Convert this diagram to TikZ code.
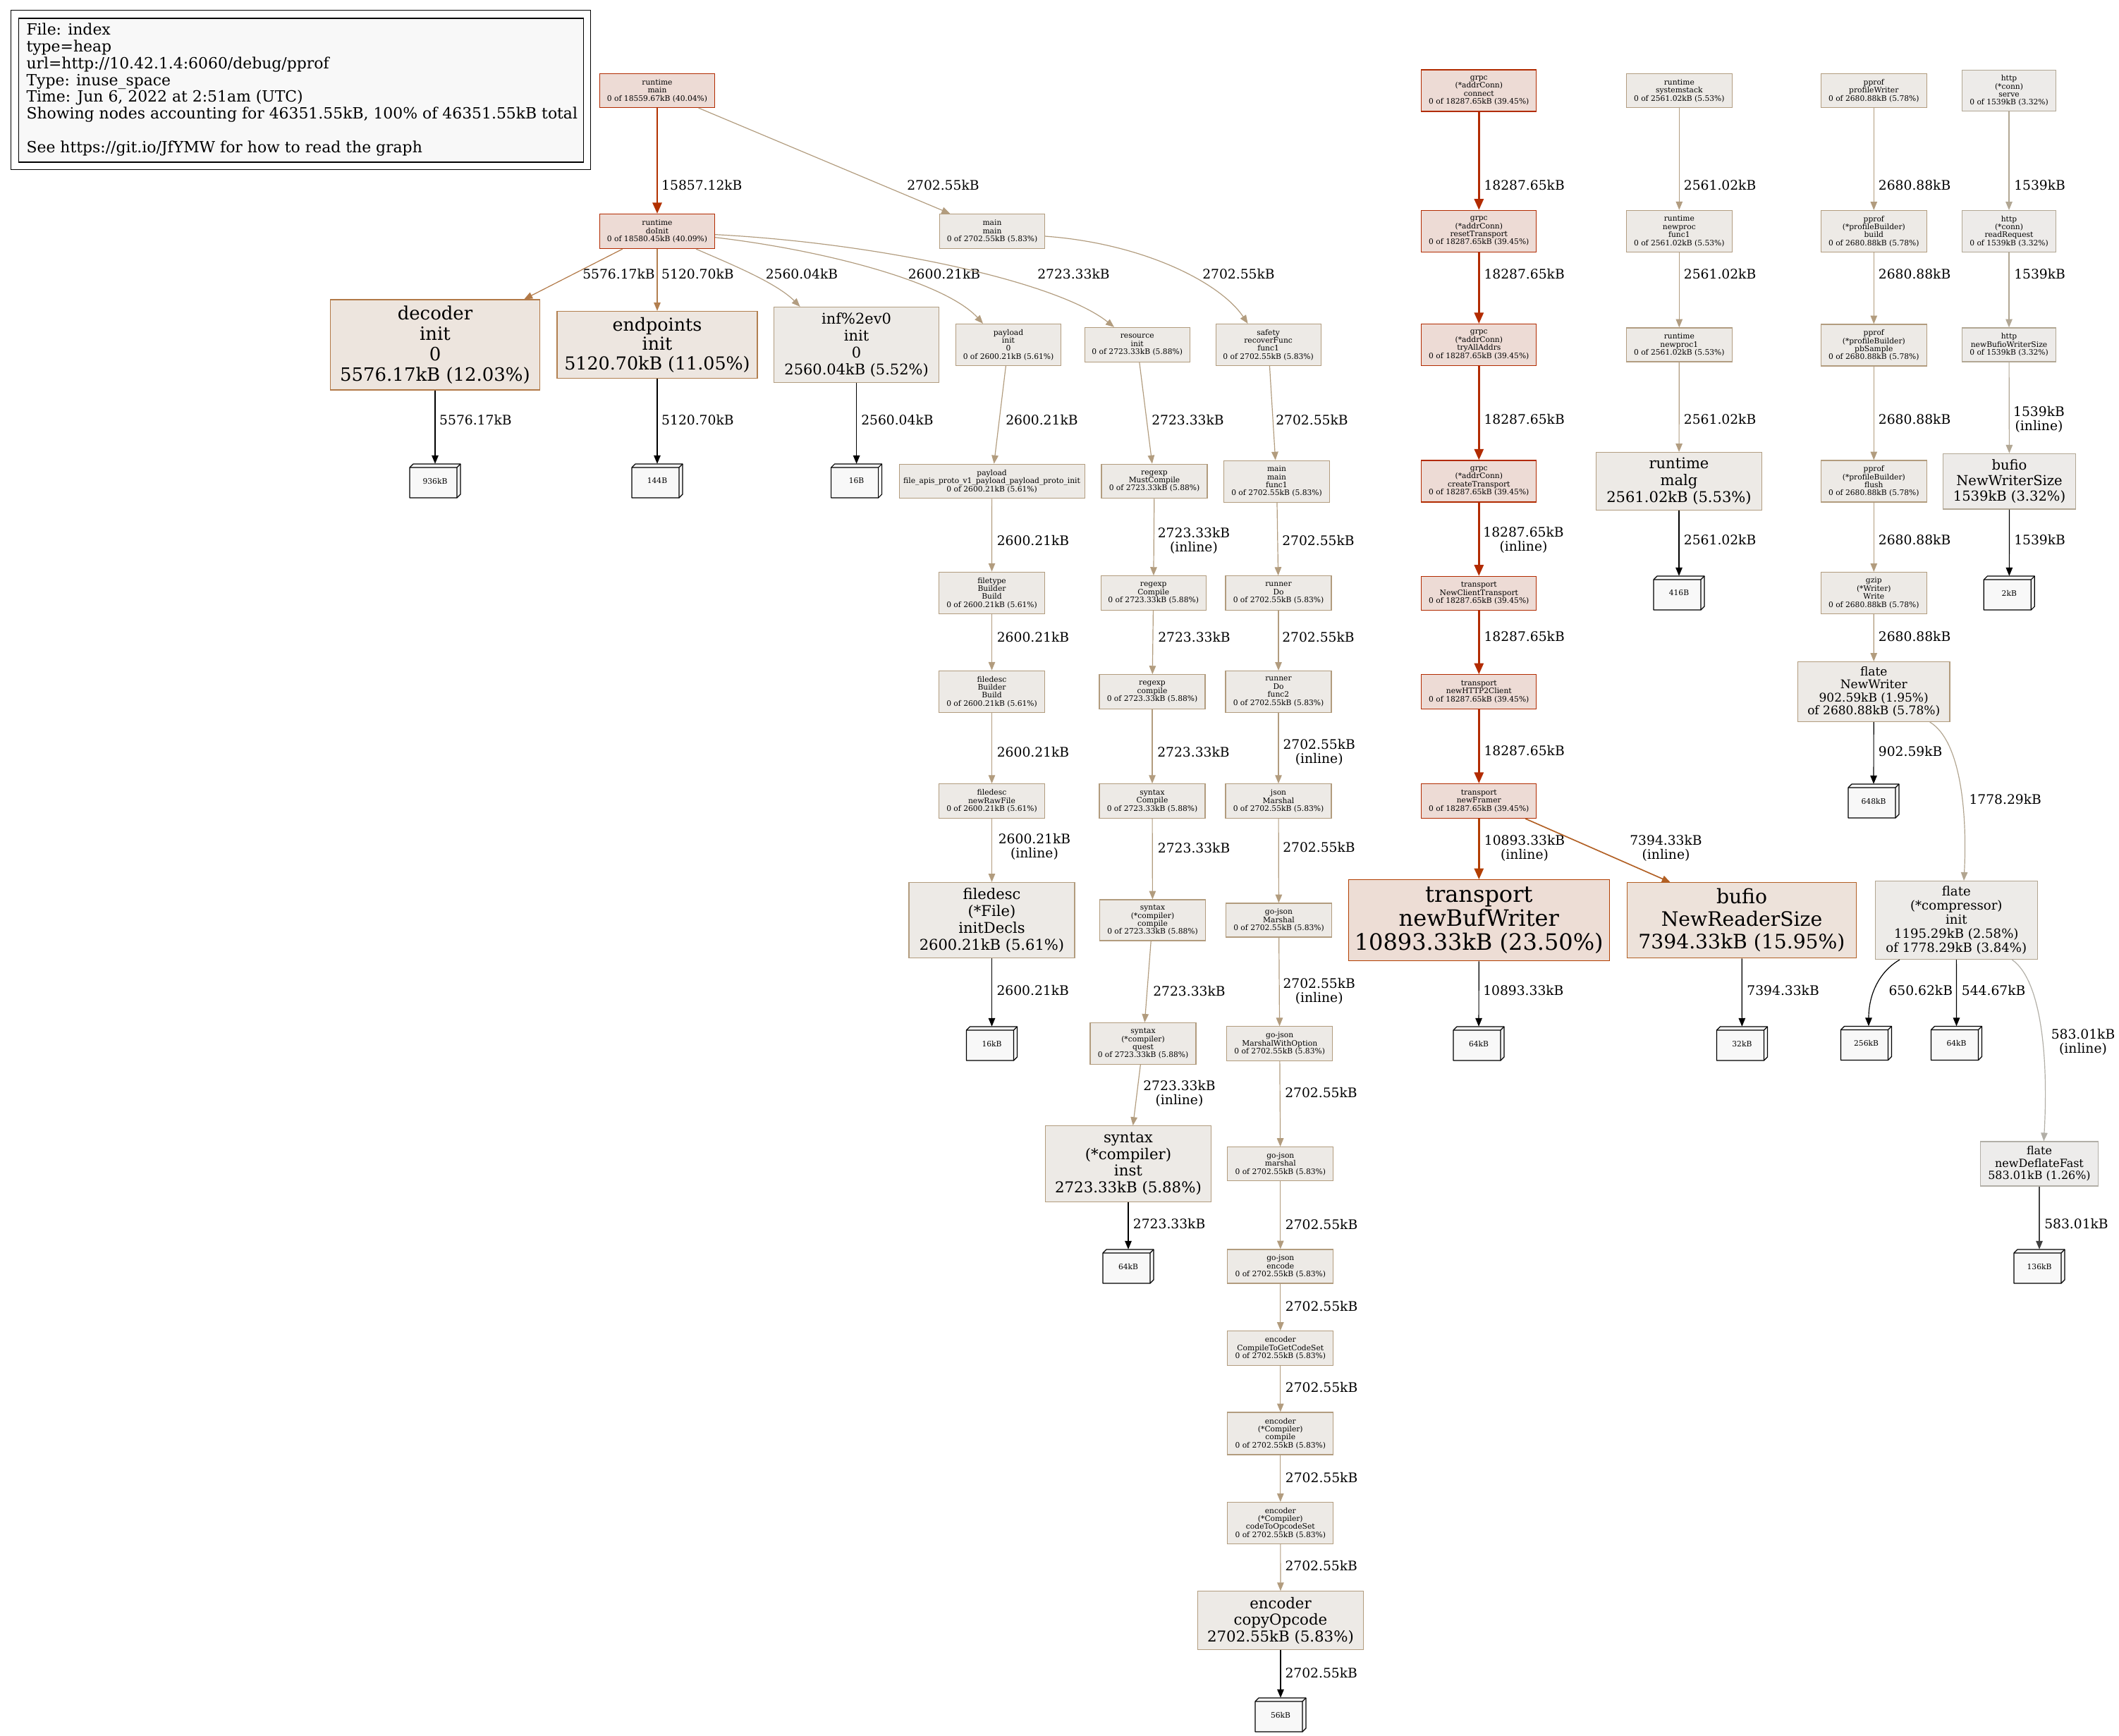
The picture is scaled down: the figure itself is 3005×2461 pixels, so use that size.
\documentclass[tikz,border=0pt]{standalone}
\usepackage{fontspec}
\setmainfont{DejaVu Serif}
\usetikzlibrary{arrows.meta}
\definecolor{hotfill}{HTML}{EDDBD5}
\definecolor{hotdraw}{HTML}{B22B00}
\definecolor{bwfill}{HTML}{EDDDD5}
\definecolor{bwdraw}{HTML}{B23E00}
\definecolor{rsfill}{HTML}{EDE2DA}
\definecolor{rsdraw}{HTML}{B26024}
\definecolor{decfill}{HTML}{EDE5DE}
\definecolor{decdraw}{HTML}{B27947}
\definecolor{endfill}{HTML}{EDE6E0}
\definecolor{enddraw}{HTML}{B27F4F}
\definecolor{midfill}{HTML}{EDEAE6}
\definecolor{middraw}{HTML}{B29C7E}
\definecolor{midbdraw}{HTML}{B29D81}
\definecolor{httpfill}{HTML}{EDEBE9}
\definecolor{httpdraw}{HTML}{B2A794}
\definecolor{cmpfill}{HTML}{EDEBE8}
\definecolor{cmpdraw}{HTML}{B2A590}
\definecolor{ndffill}{HTML}{EDECEB}
\definecolor{ndfdraw}{HTML}{B2AFA7}
\definecolor{cubefill}{HTML}{F8F8F8}
\definecolor{eA}{HTML}{B23100}
\newcommand\fsm{\fontsize{9}{9.6}\selectfont}
\newcommand\fed{\fontsize{15.7}{16.8}\selectfont}
\newcommand\fleg{\fontsize{18.4}{20}\selectfont}
\newcommand\cubeat[4]{%
  \filldraw[fill=cubefill, draw=black, line width=1pt, line join=round] (#2-36,#3+24) -- (#2-36,#3-19) -- (#2-31,#3-24) -- (#2+36,#3-24) -- (#2+36,#3+19) -- (#2+31,#3+24) -- cycle;
  \draw[line width=1pt] (#2-36,#3-19) -- (#2+31,#3-19) -- (#2+31,#3+24) (#2+31,#3-19) -- (#2+36,#3-24);
  \node[cubeN] (#1) at (#2,#3) {#4};
}
\tikzset{
  bw/.style={minimum width=#1*0.84pt},
  bh/.style={minimum height=#1*0.84pt},
  gnode/.style={rectangle, draw, line width=1pt, inner sep=0pt, align=center},
  sm/.style={gnode, font=\fsm},
  hot/.style={fill=hotfill, draw=hotdraw},
  mid/.style={fill=midfill, draw=middraw},
  midb/.style={fill=midfill, draw=midbdraw},
  htp/.style={fill=httpfill, draw=httpdraw},
  cubeN/.style={rectangle, draw=none, inner sep=0pt, minimum width=72*0.84pt, minimum height=48*0.84pt, font=\fsm},
  el/.style={font=\fed, inner sep=0pt, anchor=west},
  elc/.style={font=\fed, inner sep=0pt, align=center},
  ed/.style={line width=1pt, -{Triangle[length=10pt,width=8pt]}},
  edk/.style={line width=2pt, -{Triangle[length=13pt,width=11pt]}},
}
\begin{document}
\begin{tikzpicture}[x=0.84pt,y=-0.84pt]
\useasboundingbox (0,0) rectangle (3005,2461);
\fill[white] (0,0) rectangle (3005,2461);
% legend
\node[draw=black, line width=1pt, bw=822, bh=226, inner sep=0pt] (legout) at (426.5,127.8) {};
\node[draw=black, fill=cubefill, line width=1pt, bw=801, bh=204, inner sep=0pt] (legbox) at (426.8,128) {};
\node[font=\fleg, align=left, anchor=west, inner sep=0pt] (legtxt) at (37.3,127.2) {File: index\\type=heap\\url=http://10.42.1.4:6060/debug/pprof\\Type: inuse\_space\\Time: Jun 6, 2022 at 2:51am (UTC)\\Showing nodes accounting for 46351.55kB, 100\% of 46351.55kB total\\[20pt]See https://git.io/JfYMW for how to read the graph};
% left group
\node[sm, bw=163, bh=48, hot] (rmain) at (932,128.5) {runtime\\main\\0 of 18559.67kB (40.04\%)};
\node[sm, bw=163, bh=49, hot] (doinit) at (932,328) {runtime\\doInit\\0 of 18580.45kB (40.09\%)};
\node[sm, bw=149, bh=49, mid] (mainmain) at (1407,328) {main\\main\\0 of 2702.55kB (5.83\%)};
\node[gnode, bw=297.5, bh=128, fill=decfill, draw=decdraw, font=\fontsize{21.8}{24.4}\selectfont] (dec) at (617,489) {decoder\\init\\0\\5576.17kB (12.03\%)};
\node[gnode, bw=284, bh=95, fill=endfill, draw=enddraw, font=\fontsize{21.3}{23.1}\selectfont] (endp) at (932,489) {endpoints\\init\\5120.70kB (11.05\%)};
\node[gnode, bw=234, bh=107, midb, font=\fontsize{17.6}{20}\selectfont] (inf) at (1214.6,489) {inf\%2ev0\\init\\0\\2560.04kB (5.52\%)};
\node[sm, bw=149, bh=59, mid] (payi) at (1430,489) {payload\\init\\0\\0 of 2600.21kB (5.61\%)};
\node[sm, bw=149, bh=49, mid] (resi) at (1612.7,489) {resource\\init\\0 of 2723.33kB (5.88\%)};
\node[sm, bw=149, bh=59, mid] (saf) at (1798.6,489) {safety\\recoverFunc\\func1\\0 of 2702.55kB (5.83\%)};
\node[sm, bw=263, bh=48.5, mid] (payf) at (1406.6,682.5) {payload\\file\_apis\_proto\_v1\_payload\_payload\_proto\_init\\0 of 2600.21kB (5.61\%)};
\node[sm, bw=150, bh=48.5, mid] (rmc) at (1637,682.5) {regexp\\MustCompile\\0 of 2723.33kB (5.88\%)};
\node[sm, bw=150, bh=59, mid] (mmf) at (1810.5,682.7) {main\\main\\func1\\0 of 2702.55kB (5.83\%)};
\node[sm, bw=150, bh=59.5, mid] (ftb) at (1406.5,841) {filetype\\Builder\\Build\\0 of 2600.21kB (5.61\%)};
\node[sm, bw=149, bh=48.5, mid] (rcp) at (1635.7,841) {regexp\\Compile\\0 of 2723.33kB (5.88\%)};
\node[sm, bw=150, bh=48.5, mid] (rdo) at (1813,841) {runner\\Do\\0 of 2702.55kB (5.83\%)};
\node[sm, bw=150, bh=59.5, mid] (fdb) at (1406.5,981) {filedesc\\Builder\\Build\\0 of 2600.21kB (5.61\%)};
\node[sm, bw=150, bh=48.5, mid] (rcl) at (1634,981) {regexp\\compile\\0 of 2723.33kB (5.88\%)};
\node[sm, bw=150, bh=59, mid] (rdf) at (1813,981) {runner\\Do\\func2\\0 of 2702.55kB (5.83\%)};
\node[sm, bw=150, bh=48.5, mid] (fdr) at (1406.5,1136) {filedesc\\newRawFile\\0 of 2600.21kB (5.61\%)};
\node[sm, bw=150, bh=48.5, mid] (scp) at (1634,1136) {syntax\\Compile\\0 of 2723.33kB (5.88\%)};
\node[sm, bw=150, bh=48.5, mid] (jm) at (1813,1136) {json\\Marshal\\0 of 2702.55kB (5.83\%)};
\node[gnode, bw=235, bh=107, mid, font=\fontsize{17.7}{20}\selectfont] (fdi) at (1406.5,1305) {filedesc\\(*File)\\initDecls\\2600.21kB (5.61\%)};
\node[sm, bw=150, bh=58, mid] (sccl) at (1634.5,1305) {syntax\\(*compiler)\\compile\\0 of 2723.33kB (5.88\%)};
\node[sm, bw=150, bh=48, mid] (gjm) at (1813.5,1305) {go-json\\Marshal\\0 of 2702.55kB (5.83\%)};
\node[sm, bw=150, bh=59, mid] (sq) at (1621,1480) {syntax\\(*compiler)\\quest\\0 of 2723.33kB (5.88\%)};
\node[sm, bw=150, bh=48.3, mid] (gjmo) at (1814.7,1480) {go-json\\MarshalWithOption\\0 of 2702.55kB (5.83\%)};
\node[gnode, bw=235, bh=107.5, mid, font=\fontsize{17.9}{19.8}\selectfont] (si) at (1600,1650.5) {syntax\\(*compiler)\\inst\\2723.33kB (5.88\%)};
\node[sm, bw=150, bh=48, mid] (gjml) at (1815.8,1650.7) {go-json\\marshal\\0 of 2702.55kB (5.83\%)};
\node[sm, bw=150, bh=48, mid] (gje) at (1815.8,1796) {go-json\\encode\\0 of 2702.55kB (5.83\%)};
\node[sm, bw=150, bh=48.6, mid] (ectg) at (1815.8,1912) {encoder\\CompileToGetCodeSet\\0 of 2702.55kB (5.83\%)};
\node[sm, bw=150, bh=60, mid] (ecc) at (1815.8,2033) {encoder\\(*Compiler)\\compile\\0 of 2702.55kB (5.83\%)};
\node[sm, bw=150, bh=59, mid] (ecto) at (1815.8,2160) {encoder\\(*Compiler)\\codeToOpcodeSet\\0 of 2702.55kB (5.83\%)};
\node[gnode, bw=235, bh=83, mid, font=\fontsize{17.9}{19.6}\selectfont] (eco) at (1816,2298.3) {encoder\\copyOpcode\\2702.55kB (5.83\%)};
% grpc column
\node[sm, bw=163, bh=59, hot] (g1) at (2097.3,128.5) {grpc\\(*addrConn)\\connect\\0 of 18287.65kB (39.45\%)};
\node[sm, bw=163, bh=59, hot] (g2) at (2097.3,327.8) {grpc\\(*addrConn)\\resetTransport\\0 of 18287.65kB (39.45\%)};
\node[sm, bw=163, bh=59, hot] (g3) at (2097.3,489) {grpc\\(*addrConn)\\tryAllAddrs\\0 of 18287.65kB (39.45\%)};
\node[sm, bw=163, bh=59, hot] (g4) at (2097.3,682.4) {grpc\\(*addrConn)\\createTransport\\0 of 18287.65kB (39.45\%)};
\node[sm, bw=163, bh=48, hot] (t1) at (2097.3,841.3) {transport\\NewClientTransport\\0 of 18287.65kB (39.45\%)};
\node[sm, bw=163, bh=48.5, hot] (t2) at (2097.3,981) {transport\\newHTTP2Client\\0 of 18287.65kB (39.45\%)};
\node[sm, bw=163, bh=49, hot] (t3) at (2097.3,1136) {transport\\newFramer\\0 of 18287.65kB (39.45\%)};
\node[gnode, bw=370, bh=115, fill=bwfill, draw=bwdraw, font=\fontsize{26.9}{28.6}\selectfont] (tbw) at (2097.3,1305.2) {transport\\newBufWriter\\10893.33kB (23.50\%)};
\node[gnode, bw=325, bh=107, fill=rsfill, draw=rsdraw, font=\fontsize{23.7}{27}\selectfont] (brs) at (2470,1305.3) {bufio\\NewReaderSize\\7394.33kB (15.95\%)};
% runtime column
\node[sm, bw=150, bh=48, midb] (rs) at (2381.3,128.5) {runtime\\systemstack\\0 of 2561.02kB (5.53\%)};
\node[sm, bw=150, bh=59, midb] (rnf) at (2381.3,327.8) {runtime\\newproc\\func1\\0 of 2561.02kB (5.53\%)};
\node[sm, bw=150, bh=48, midb] (rn1) at (2381.3,489) {runtime\\newproc1\\0 of 2561.02kB (5.53\%)};
\node[gnode, bw=235.7, bh=82, midb, font=\fontsize{17.7}{20}\selectfont] (rmalg) at (2381,682.5) {runtime\\malg\\2561.02kB (5.53\%)};
% pprof column
\node[sm, bw=150, bh=48, mid] (pw) at (2657.3,128.5) {pprof\\profileWriter\\0 of 2680.88kB (5.78\%)};
\node[sm, bw=150, bh=59, mid] (pb) at (2657.3,328) {pprof\\(*profileBuilder)\\build\\0 of 2680.88kB (5.78\%)};
\node[sm, bw=150, bh=59, mid] (ps) at (2657.3,489.5) {pprof\\(*profileBuilder)\\pbSample\\0 of 2680.88kB (5.78\%)};
\node[sm, bw=150, bh=59, mid] (pf) at (2657.3,682.5) {pprof\\(*profileBuilder)\\flush\\0 of 2680.88kB (5.78\%)};
\node[sm, bw=150, bh=59, mid] (gz) at (2657.3,841) {gzip\\(*Writer)\\Write\\0 of 2680.88kB (5.78\%)};
\node[gnode, bw=215.7, bh=85, mid, font=\fontsize{14.3}{15.4}\selectfont] (fnw) at (2657.2,981) {flate\\NewWriter\\902.59kB (1.95\%)\\of 2680.88kB (5.78\%)};
\node[gnode, bw=230, bh=111, fill=cmpfill, draw=cmpdraw, font=\fontsize{15.2}{16.8}\selectfont] (fci) at (2774.3,1305) {flate\\(*compressor)\\init\\1195.29kB (2.58\%)\\of 1778.29kB (3.84\%)};
\node[gnode, bw=166.7, bh=63, fill=ndffill, draw=ndfdraw, font=\fontsize{13.4}{14.7}\selectfont] (fndf) at (2892,1650.5) {flate\\newDeflateFast\\583.01kB (1.26\%)};
% http column
\node[sm, bw=133, bh=58.5, htp] (hs) at (2849,128.5) {http\\(*conn)\\serve\\0 of 1539kB (3.32\%)};
\node[sm, bw=133, bh=59, htp] (hr) at (2849,328) {http\\(*conn)\\readRequest\\0 of 1539kB (3.32\%)};
\node[sm, bw=133, bh=48, htp] (hnb) at (2849,489) {http\\newBufioWriterSize\\0 of 1539kB (3.32\%)};
\node[gnode, bw=187.6, bh=78.6, htp, font=\fontsize{16.4}{18.3}\selectfont] (bnws) at (2849.5,682.7) {bufio\\NewWriterSize\\1539kB (3.32\%)};
% cubes
\cubeat{c936}{617}{682}{936kB}
\cubeat{c144}{932}{682}{144B}
\cubeat{c16b}{1214.6}{682}{16B}
\cubeat{c16a}{1406.5}{1480}{16kB}
\cubeat{c64a}{1600}{1796}{64kB}
\cubeat{c56}{1816}{2432}{56kB}
\cubeat{c64b}{2097}{1480}{64kB}
\cubeat{c32}{2470.4}{1480}{32kB}
\cubeat{c416}{2381}{841}{416B}
\cubeat{c648}{2657}{1136}{648kB}
\cubeat{c256}{2646.5}{1479.5}{256kB}
\cubeat{c64c}{2774.5}{1479.5}{64kB}
\cubeat{c136}{2892}{1796}{136kB}
\cubeat{c2k}{2849.3}{841}{2kB}
% edges: top-left
\draw[edk, color=eA] (rmain) -- (doinit);
\node[el] (l1) at (938,263) {15857.12kB};
\draw[ed, color=middraw] (rmain) -- (mainmain);
\node[el] (l2) at (1286,263) {2702.55kB};
\draw[ed, color=decdraw] (doinit) -- (dec);
\node[elc] (l3) at (877.5,389) {5576.17kB};
\draw[ed, color=enddraw] (doinit) -- (endp);
\node[el] (l4) at (938,389) {5120.70kB};
\draw[ed, color=midbdraw] ([xshift=46.2pt]doinit.south) .. controls (1030,372) and (1100,400) .. ([xshift=-67.2pt]inf.north);
\node[el] (l5) at (1085.5,389) {2560.04kB};
\draw[ed, color=middraw] ([yshift=-7.3pt]doinit.east) .. controls (1170,355) and (1340,400) .. ([xshift=-30.2pt]payi.north);
\node[el] (l6) at (1287.6,389) {2600.21kB};
\draw[ed, color=middraw] ([yshift=-3.9pt]doinit.east) .. controls (1250,345) and (1500,400) .. ([xshift=-27.5pt]resi.north);
\node[el] (l7) at (1471,389) {2723.33kB};
\draw[ed, color=middraw] ([yshift=-5.9pt]mainmain.east) .. controls (1620,345) and (1730,400) .. ([xshift=-24.4pt]saf.north);
\node[el] (l8) at (1705,389) {2702.55kB};
\draw[ed, color=black] (dec) -- (c936);
\node[el] (l9) at (623,595.7) {5576.17kB};
\draw[ed, color=black] (endp) -- (c144);
\node[el] (l10) at (938,595.7) {5120.70kB};
\draw[ed, color=black] (inf) -- (c16b);
\node[el] (l11) at (1221,595.7) {2560.04kB};
% payload chain
\draw[ed, color=middraw] (payi) -- (payf);
\node[el] (l12) at (1426,596) {2600.21kB};
\draw[ed, color=middraw] (payf) -- (ftb);
\node[el] (l13) at (1413.6,766.4) {2600.21kB};
\draw[ed, color=middraw] (ftb) -- (fdb);
\node[el] (l14) at (1413.6,903.4) {2600.21kB};
\draw[ed, color=middraw] (fdb) -- (fdr);
\node[el] (l15) at (1413.6,1066.3) {2600.21kB};
\draw[ed, color=middraw] (fdr) -- (fdi);
\node[elc] (l16) at (1467,1201) {2600.21kB\\(inline)};
\draw[ed, color=black] (fdi) -- (c16a);
\node[el] (l17) at (1413.3,1405) {2600.21kB};
% regexp chain
\draw[ed, color=middraw] (resi) -- (rmc);
\node[el] (l18) at (1633,596) {2723.33kB};
\draw[ed, color=middraw] (rmc) -- (rcp);
\node[elc] (l19) at (1693,767) {2723.33kB\\(inline)};
\draw[ed, color=middraw] (rcp) -- (rcl);
\node[el] (l20) at (1642,903.4) {2723.33kB};
\draw[ed, color=middraw] (rcl) -- (scp);
\node[el] (l21) at (1641,1066.3) {2723.33kB};
\draw[ed, color=middraw] (scp) -- (sccl);
\node[el] (l22) at (1641.7,1202.3) {2723.33kB};
\draw[ed, color=middraw] (sccl) -- (sq);
\node[el] (l23) at (1635,1405.7) {2723.33kB};
\draw[ed, color=middraw] (sq) -- (si);
\node[elc] (l24) at (1672.5,1551) {2723.33kB\\(inline)};
\draw[ed, color=black] (si) -- (c64a);
\node[el] (l25) at (1606.7,1736) {2723.33kB};
% runner / json chain
\draw[ed, color=middraw] (saf) -- (mmf);
\node[el] (l26) at (1809,596) {2702.55kB};
\draw[ed, color=middraw] (mmf) -- (rdo);
\node[el] (l27) at (1818,766.4) {2702.55kB};
\draw[ed, color=middraw] (rdo) -- (rdf);
\node[el] (l28) at (1818,903.4) {2702.55kB};
\draw[ed, color=middraw] (rdf) -- (jm);
\node[elc] (l29) at (1870.7,1066.7) {2702.55kB\\(inline)};
\draw[ed, color=middraw] (jm) -- (gjm);
\node[el] (l30) at (1819,1202) {2702.55kB};
\draw[ed, color=middraw] (gjm) -- (gjmo);
\node[elc] (l31) at (1870.7,1406) {2702.55kB\\(inline)};
\draw[ed, color=middraw] (gjmo) -- (gjml);
\node[el] (l32) at (1822,1550) {2702.55kB};
\draw[ed, color=middraw] (gjml) -- (gje);
\node[el] (l33) at (1822.7,1736.2) {2702.55kB};
\draw[ed, color=middraw] (gje) -- (ectg);
\node[el] (l34) at (1822.7,1852.6) {2702.55kB};
\draw[ed, color=middraw] (ectg) -- (ecc);
\node[el] (l35) at (1822.7,1968) {2702.55kB};
\draw[ed, color=middraw] (ecc) -- (ecto);
\node[el] (l36) at (1822.7,2095.6) {2702.55kB};
\draw[ed, color=middraw] (ecto) -- (eco);
\node[el] (l37) at (1822.3,2221) {2702.55kB};
\draw[ed, color=black] (eco) -- (c56);
\node[el] (l38) at (1822.3,2372.3) {2702.55kB};
% grpc chain
\draw[edk, color=hotdraw] (g1) -- (g2);
\node[el] (l39) at (2104.3,262.6) {18287.65kB};
\draw[edk, color=hotdraw] (g2) -- (g3);
\node[el] (l40) at (2104.3,388.8) {18287.65kB};
\draw[edk, color=hotdraw] (g3) -- (g4);
\node[el] (l41) at (2104.3,594.4) {18287.65kB};
\draw[edk, color=hotdraw] (g4) -- (t1);
\node[elc] (l42) at (2160.5,765.5) {18287.65kB\\(inline)};
\draw[edk, color=hotdraw] (t1) -- (t2);
\node[el] (l43) at (2104.3,902.3) {18287.65kB};
\draw[edk, color=hotdraw] (t2) -- (t3);
\node[el] (l44) at (2104.3,1065) {18287.65kB};
\draw[edk, color=bwdraw] (t3) -- (tbw);
\node[elc] (l45) at (2162,1203) {10893.33kB\\(inline)};
\draw[ed, color=rsdraw, line width=1.4pt] ([xshift=55.4pt]t3.south) -- ([xshift=-85.1pt]brs.north);
\node[elc] (l46) at (2362.5,1203) {7394.33kB\\(inline)};
\draw[ed, color=black] (tbw) -- (c64b);
\node[el] (l47) at (2103,1405) {10893.33kB};
\draw[ed, color=black] (brs) -- (c32);
\node[el] (l48) at (2477.2,1405) {7394.33kB};
% runtime chain
\draw[ed, color=midbdraw] (rs) -- (rnf);
\node[el] (l49) at (2387.7,262.6) {2561.02kB};
\draw[ed, color=midbdraw] (rnf) -- (rn1);
\node[el] (l50) at (2387.7,388.8) {2561.02kB};
\draw[ed, color=midbdraw] (rn1) -- (rmalg);
\node[el] (l51) at (2387.7,594.4) {2561.02kB};
\draw[ed, color=black] (rmalg) -- (c416);
\node[el] (l52) at (2387.7,765.5) {2561.02kB};
% pprof chain
\draw[ed, color=middraw] (pw) -- (pb);
\node[el] (l53) at (2663.7,262.2) {2680.88kB};
\draw[ed, color=middraw] (pb) -- (ps);
\node[el] (l54) at (2663.7,388.5) {2680.88kB};
\draw[ed, color=middraw] (ps) -- (pf);
\node[el] (l55) at (2663.7,594.6) {2680.88kB};
\draw[ed, color=middraw] (pf) -- (gz);
\node[el] (l56) at (2663.7,765.7) {2680.88kB};
\draw[ed, color=middraw] (gz) -- (fnw);
\node[el] (l57) at (2663.7,902.9) {2680.88kB};
\draw[ed, color=black] (fnw) -- (c648);
\node[el] (l58) at (2663.7,1066) {902.59kB};
\draw[ed, color=cmpdraw] ([xshift=66.8pt]fnw.south) .. controls (2780,1050) and (2790,1150) .. ([xshift=9pt]fci.north);
\node[el] (l59) at (2792.3,1133.8) {1778.29kB};
\draw[ed, color=black] ([xshift=-67.5pt]fci.south) .. controls (2665,1378) and (2650,1410) .. ([xshift=2.9pt]c256.north);
\node[el] (l60) at (2678.3,1404.7) {650.62kB};
\draw[ed, color=black] (fci) -- (c64c);
\node[el] (l61) at (2781.7,1404.7) {544.67kB};
\draw[ed, color=ndfdraw] ([xshift=66.4pt]fci.south) .. controls (2895,1390) and (2905,1500) .. ([xshift=5.3pt]fndf.north);
\node[elc] (l62) at (2954,1478) {583.01kB\\(inline)};
\draw[ed, color=black!75] (fndf) -- (c136);
\node[el] (l63) at (2899,1736) {583.01kB};
% http chain
\draw[ed, color=httpdraw] (hs) -- (hr);
\node[el] (l64) at (2856,262.2) {1539kB};
\draw[ed, color=httpdraw] (hr) -- (hnb);
\node[el] (l65) at (2856,388.5) {1539kB};
\draw[ed, color=httpdraw] (hnb) -- (bnws);
\node[elc] (l66) at (2891.5,595) {1539kB\\(inline)};
\draw[ed, color=black] (bnws) -- (c2k);
\node[el] (l67) at (2856,765.7) {1539kB};
\end{tikzpicture}
\end{document}
